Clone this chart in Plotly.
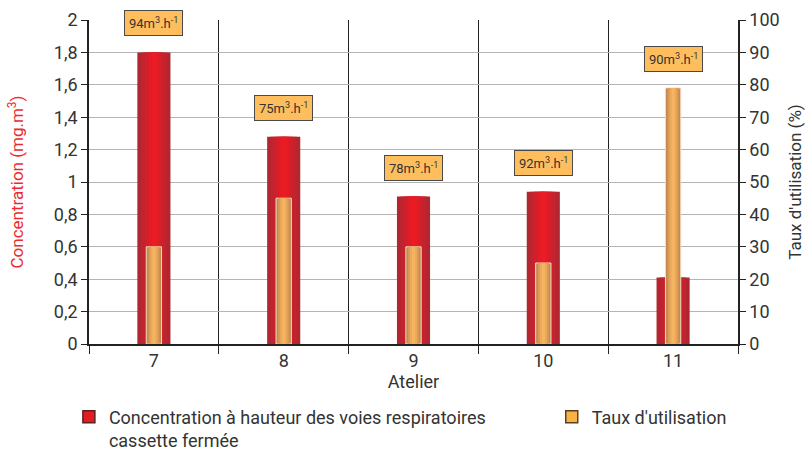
import plotly.graph_objects as go

ateliers = ["7", "8", "9", "10", "11"]
concentration = [1.80, 1.28, 0.91, 0.94, 0.41]
taux = [30, 45, 30, 25, 79]
debits = ["94m<sup>3</sup>.h<sup>-1</sup>", "75m<sup>3</sup>.h<sup>-1</sup>", "78m<sup>3</sup>.h<sup>-1</sup>",
          "92m<sup>3</sup>.h<sup>-1</sup>", "90m<sup>3</sup>.h<sup>-1</sup>"]

xs = list(range(len(ateliers)))
FONT = "Roboto"
fig = go.Figure()

# red bars: layered to imitate a horizontal gradient
red_layers = [(0.255, "#b1262f"), (0.2, "#bf2430"), (0.14, "#d21f29"), (0.08, "#e41c25"), (0.03, "#ec1c24")]
for w, c in red_layers:
    fig.add_trace(go.Bar(x=xs, y=concentration, width=w, marker=dict(color=c, line=dict(width=0)),
                         showlegend=False, hoverinfo="skip", yaxis="y"))

# orange bars
or_layers = [(0.118, "#c38a50", dict(color="#f2dcc4", width=1)), (0.085, "#d99a55", dict(width=0)),
             (0.055, "#eaa95c", dict(width=0)), (0.025, "#f6b460", dict(width=0))]
for w, c, ln in or_layers:
    fig.add_trace(go.Bar(x=xs, y=taux, width=w, marker=dict(color=c, line=ln),
                         showlegend=False, hoverinfo="skip", yaxis="y2"))

# legend entries
fig.add_trace(go.Bar(x=[None], y=[None], name="Concentration à hauteur des voies respiratoires<br>cassette fermée",
                     marker=dict(color="#e31b23", line=dict(color="#5a2020", width=1.5)), yaxis="y",
                     legend="legend"))
fig.add_trace(go.Bar(x=[None], y=[None], name="Taux d'utilisation",
                     marker=dict(color="#f9b243", line=dict(color="#5a4020", width=1.5)), yaxis="y2",
                     legend="legend2"))

# flow-rate labels above each group
for i, txt in enumerate(debits):
    top = max(concentration[i], taux[i] / 50.0)
    fig.add_annotation(x=xs[i], y=top, xref="x", yref="y", text=txt, showarrow=False,
                       yanchor="bottom", yshift=16, font=dict(family=FONT, size=13, color="#333333"),
                       bgcolor="#ffbe5e", bordercolor="#4a4a4a", borderwidth=1, borderpad=4)

fig.update_layout(
    width=805, height=452,
    margin=dict(l=89, r=67, t=20, b=108, autoexpand=False),
    paper_bgcolor="white", plot_bgcolor="white",
    barmode="overlay",
    separators=", ",
    font=dict(family=FONT, size=18, color="#333333"),
    xaxis=dict(
        range=[-0.5, 4.5], tickmode="array", tickvals=xs, ticktext=ateliers,
        ticks="", showgrid=False, showline=True, linecolor="#222222", linewidth=1.5,
        title=dict(text="Atelier", font=dict(size=18), standoff=2),
        tickfont=dict(size=18), automargin=False,
        minor=dict(tick0=-0.5, dtick=1, ticks="outside", ticklen=8, tickcolor="#222222",
                   showgrid=True, gridcolor="#222222", gridwidth=1),
    ),
    yaxis=dict(
        range=[0, 2], dtick=0.2, tickformat=".1~f", ticks="outside", ticklen=6, tickcolor="#222222",
        showline=True, linecolor="#222222", linewidth=1.5, showgrid=True, gridcolor="#b4b4b4", gridwidth=1.2,
        zeroline=False, automargin=False,
        title=dict(text="Concentration (mg.m<sup>3</sup>)", font=dict(color="#ee2a2f", size=17), standoff=26),
        tickfont=dict(size=18),
    ),
    yaxis2=dict(
        range=[0, 100], dtick=10, overlaying="y", side="right", ticks="outside", ticklen=6, tickcolor="#222222",
        showline=True, linecolor="#222222", linewidth=1.5, showgrid=False, zeroline=False, automargin=False,
        title=dict(text="Taux d'utilisation (%)", font=dict(size=17), standoff=10),
        tickfont=dict(size=18),
    ),
    legend=dict(orientation="h", x=-0.031, xanchor="left", y=-0.168, yanchor="top", valign="top",
                font=dict(size=18), traceorder="normal", bgcolor="rgba(0,0,0,0)", tracegroupgap=0),
    legend2=dict(orientation="h", x=0.713, xanchor="left", y=-0.168, yanchor="top", valign="top",
                 font=dict(size=18), traceorder="normal", bgcolor="rgba(0,0,0,0)"),
)

fig.write_html("out.html", config={"displayModeBar": False},
               post_script="document.body.style.margin='0';")
